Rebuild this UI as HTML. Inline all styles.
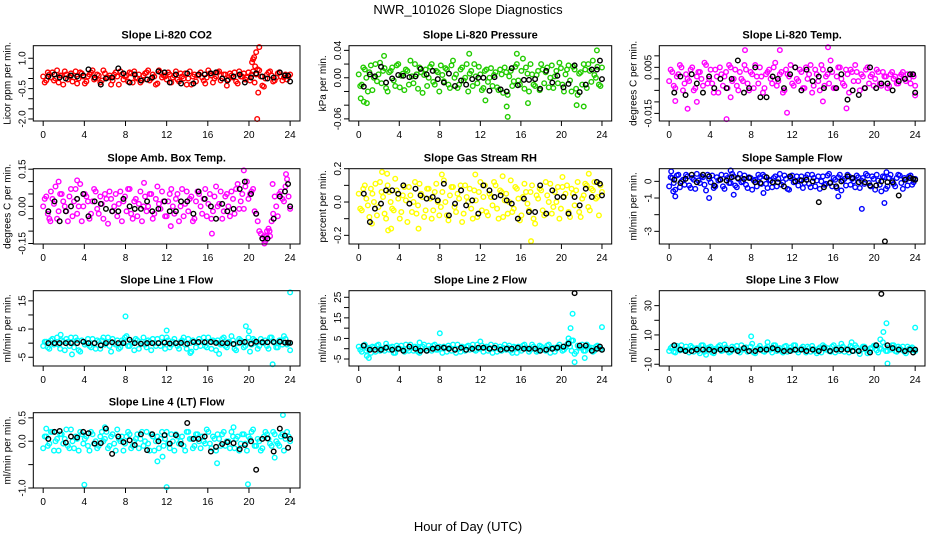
<!DOCTYPE html>
<html><head><meta charset="utf-8"><style>
html,body{margin:0;padding:0;background:#fff}
svg{display:block;font-family:"Liberation Sans",Arial,sans-serif}
</style></head><body>
<svg id="chart" width="936" height="540" viewBox="0 0 936 540" xmlns="http://www.w3.org/2000/svg">
<text x="468" y="14" text-anchor="middle" font-size="13">NWR_101026  Slope Diagnostics</text>
<text x="468" y="531" text-anchor="middle" font-size="13">Hour of Day (UTC)</text>
</svg>
<script>
const hours=[0,.3,.6,.9,1.2,1.5,1.8,2.1,2.4,2.7,3,3.3,3.6,3.9,4.2,4.5,4.8,5.1,5.4,5.7,6,6.3,6.6,6.9,7.2,7.5,7.8,8.1,8.4,8.7,9,9.3,9.6,9.9,10.2,10.5,10.8,11.1,11.4,11.7,12,12.3,12.6,12.9,13.2,13.5,13.8,14.1,14.4,14.7,15,15.3,15.6,15.9,16.2,16.5,16.8,17.1,17.4,17.7,18,18.3,18.6,18.9,19.2,19.5,19.8,20.1,20.4,20.7,21,21.3,21.6,21.9,22.2,22.5,22.8,23.1,23.4,23.7,24];
const hoursB=[.15,.45,.75,1.05,1.35,1.65,1.95,2.25,2.55,2.85,3.15,3.45,3.75,4.05,4.35,4.65,4.95,5.25,5.55,5.85,6.15,6.45,6.75,7.05,7.35,7.65,7.95,8.25,8.55,8.85,9.15,9.45,9.75,10.05,10.35,10.65,10.95,11.25,11.55,11.85,12.15,12.45,12.75,13.05,13.35,13.65,13.95,14.25,14.55,14.85,15.15,15.45,15.75,16.05,16.35,16.65,16.95,17.25,17.55,17.85,18.15,18.45,18.75,19.05,19.35,19.65,19.95,20.25,20.55,20.85,21.15,21.45,21.75,22.05,22.35,22.65,22.95,23.25,23.55,23.85];
const blackHours=[0.5,1.1,1.6,2.2,2.7,3.3,3.9,4.4,5.0,5.6,6.1,6.7,7.3,7.8,8.4,8.9,9.5,10.1,10.6,11.2,11.8,12.3,12.9,13.4,14.0,14.6,15.1,15.7,16.3,16.8,17.4,17.9,18.5,19.1,19.6,20.2,20.7,21.3,21.8,22.4,23.0,23.5,23.8,24.0];
const xTicks=[0,4,8,12,16,20,24];

const co2Y=[0.1,-0.1,0.2,0.3,0,-0.2,0.15,0.35,-0.05,0.25,0.05,-0.25,0.3,0.1,-0.15,0.2,0.4,0,0.15,-0.1,0.25,0.05,-0.3,0.2,0.1,0.35,-0.05,0.15,0.3,-0.2,0.05,0.2,-0.1,0.25,0.4,0,0.1,-0.25,0.3,0.15,-0.05,0.2,0.05,0.35,-0.15,0.1,0.25,0,-0.3,0.2,0.15,0.3,-0.1,0.05,0.25,-0.2,0.1,0.35,0,0.2,-0.05,0.15,0.3,-0.25,0.1,0.25,0.05,-0.1,0.35,0.2,0.4,-0.35,0,0.3,0.15,-0.1,0.25,0.1,0.05,-0.05,0.2];
const co2Y2=[-0.2,0.3,0.05,-0.1,0.4,0.15,-0.3,0.2,0.1,-0.15,0.35,0,0.25,-0.25,0.1,0.3,-0.05,0.2,-0.2,0.4,0.05,0.15,-0.1,0.3,-0.3,0.2,0.1,-0.15,0.25,0.35,0,-0.2,0.15,0.3,-0.1,0.2,-0.3,0.4,0.05,0.1,0.3,-0.2,0.15,-0.05,0.25,0,-0.3,0.35,0.1,-0.15,0.2,0.05,-0.25,0.4,0.15,0,0.3,-0.1,0.2,-0.35,0.25,0.05,-0.15,0.35,0.1,-0.05,0.3,0.2,-0.2,0.45,0.1,-0.4,0.2,0.35,-0.15,0.05,0.3,-0.1,0.2,0.1];
const co2Black=[0.1,0.2,0.05,0,0.15,0.1,0.15,0.45,0.05,-0.3,0,0.05,0.5,0.25,-0.2,0.2,-0.1,-0.05,0.05,0.35,0.3,-0.2,0.2,-0.25,0.25,-0.25,0.2,0.2,0.25,0.3,0,-0.1,0.1,0.2,-0.2,0.05,0.25,0.1,0,0.05,0.3,0.15,0.15,-0.15];
const co2ExtraX=[20.3,20.4,20.5,20.6,20.7,20.9,21.0,20.8];
const co2ExtraY=[0.8,0.95,1.05,0.6,1.3,-0.7,1.55,-2.0];

const presY=[.005,-.01,.012,-.02,.018,0,-.005,.022,.01,-.015,.008,.015,-.012,.02,.003,-.018,.01,.025,-.008,.005,.015,-.022,.012,0,.02,-.01,.008,.018,-.005,.012,-.015,.025,.005,-.01,.015,0,-.02,.01,.02,-.008,.005,-.015,.012,0,-.012,.008,-.018,.005,.015,-.025,.01,-.005,.02,-.01,.028,.015,-.02,.005,-.012,.01,.02,-.008,.015,0,-.015,.01,.022,-.01,.005,.018,-.02,.012,-.025,.008,.02,-.015,.01,.025,0,-.01,.015];
const presY2=[-.012,.015,0,.008,-.018,.02,.005,-.008,.014,-.02,.01,-.004,.018,-.014,.006,.012,-.01,.002,.02,-.016,.008,.004,-.012,.016,-.006,.01,-.02,.004,.014,-.01,.018,0,-.015,.012,-.004,.02,.006,-.012,.002,.016,-.018,.01,-.006,.014,.004,-.014,.012,-.022,.008,.002,-.012,.016,-.004,.01,-.016,.006,.02,-.01,.004,-.018,.012,.008,-.014,.018,.002,-.008,.014,-.02,.012,-.004,.016,-.016,.006,-.01,.012,.02,-.006,.004,.016,-.012];
const presBlack=[-.013,.005,.002,.016,-.007,-.001,.004,.003,.001,.002,.013,.005,.01,-.002,-.007,.006,-.012,-.004,-.01,-.002,0,0,-.019,.001,-.017,-.02,.014,-.011,-.003,-.003,-.002,-.016,.01,-.007,.003,-.014,-.009,.018,-.021,-.01,.012,.012,.025,-.002];
const presExtraX=[0.2,0.5,0.8,10.9,14.6,14.7,23.5,21.5,22.2,12.5,16.7,2.5,15.6];
const presExtraY=[-.03,-.035,-.037,.035,-.042,-.057,.04,-.04,-.042,-.033,-.037,.032,.035];

const tempY=[-.001,.003,-.004,.002,.005,-.002,0,.004,-.005,.001,.003,-.003,.006,0,-.002,.004,-.006,.002,.001,-.004,.005,0,-.003,.003,-.001,.004,-.005,.002,.006,-.002,.001,-.004,.003,0,.005,-.003,.002,-.006,.004,.001,-.002,.005,-.001,.003,-.004,0,.006,-.003,.002,-.005,.004,.001,-.002,.003,-.004,.005,0,-.003,.002,.004,-.001,.003,-.005,.001,.004,-.002,.002,0,.003,-.003,.001,-.004,.002,0,-.002,.001,.003,-.001,0,.002,-.003];
const tempY2=[.004,-.003,.001,.006,-.005,.002,-.001,.005,-.004,.003,0,.007,-.002,.004,-.006,.001,.005,-.003,.003,.006,-.001,.004,-.005,0,.006,-.002,.003,-.004,.001,.005,-.006,.002,.004,-.002,.007,-.001,.003,-.005,.002,.006,-.003,0,.004,-.004,.005,.002,-.006,.004,-.001,.006,-.003,.002,.008,-.004,.001,.005,-.002,.004,-.006,.003,.006,-.001,.002,-.004,.005,.001,-.003,.004,-.002,.003,.001,-.003,.003,.001,-.002,.002,0,.002,-.002,.001];
const tempBlack=[-.006,.001,-.007,.002,-.002,-.006,.001,-.004,0,-.004,0,.008,-.006,-.004,.005,-.008,-.008,.001,0,-.004,.002,.005,-.005,.004,-.001,.001,-.004,.004,-.004,.002,-.009,-.005,-.007,-.004,.005,-.004,-.002,-.002,-.005,-.001,0,.002,.002,-.006];
const tempExtraX=[5.6,11.5,17.3,1.8,7.4,10.8,15.5,0.6,2.7,6.0,24.0,15.0];
const tempExtraY=[-.0175,-.0147,-.0128,-.013,.0125,.0125,.0137,-.0096,-.010,-.008,-.0072,-.0098];

const ambY=[0,.04,-.05,.03,.08,-.02,.05,0,-.06,.07,.02,-.03,.09,0,.04,-.05,.02,.06,-.03,.01,.05,-.07,.03,0,-.04,.06,.02,-.02,.07,-.05,.03,.01,-.06,.04,0,.05,-.03,.08,-.01,.02,-.04,.05,0,.03,-.06,.07,.01,-.02,.04,-.05,.06,0,.03,-.04,.05,-.02,.08,.01,-.05,.04,0,.06,-.03,.09,.02,-.01,.1,.05,.07,-.03,-.1,-.13,-.14,-.09,-.06,.04,-.04,.06,.02,.11,-.01];
const ambY2=[.03,-.03,.06,.01,-.05,.05,.02,-.02,.04,-.04,.07,.0,-.06,.05,.02,-.03,.07,-.01,.04,-.05,.03,.06,-.02,.05,.01,-.06,.04,.07,-.03,.02,-.04,.06,.0,-.02,.05,-.05,.03,.01,.06,-.04,.02,.07,-.03,.05,.0,-.04,.06,.03,-.06,.02,.05,-.03,.07,.01,-.05,.04,.0,.06,-.02,.05,-.04,.03,.07,-.01,.05,.08,.03,.06,-.02,-.06,-.11,-.12,-.1,-.12,-.03,.0,.05,.03,.08,.04];
const ambBlack=[-.02,.02,-.06,-.02,0,.03,.05,-.04,.02,.01,-.01,-.02,-.02,.03,0,-.01,-.01,.02,-.02,-.01,.02,-.02,-.02,.02,.02,-.03,.06,.03,0,-.05,.01,-.02,-.01,.07,.1,.05,-.03,-.13,-.13,-.05,.04,.06,.09,0];
const ambExtraX=[1.5,3.3,9.8,19.5,16.4,21.5,21.7,22.0,23.6,22.3,0.7,12.4];
const ambExtraY=[.1,.105,.095,.145,-.11,-.15,-.12,-.1,.13,.09,-.06,-.08];

const rhY=[.05,-.05,.1,-.02,.08,0,-.08,.12,.03,-.1,.06,-.04,.14,.02,-.06,.09,-.12,.04,0,-.07,.11,.03,-.05,.08,-.1,.06,0,-.03,.13,-.08,.04,.09,-.06,.02,-.12,.1,0,-.04,.07,-.09,.12,.03,-.06,.05,-.02,.1,-.1,.06,.01,-.07,.13,-.04,.08,-.11,.03,.06,-.05,.1,-.13,.02,.07,-.08,.04,.11,-.03,0,-.1,.09,.05,-.06,.08,-.02,.12,-.09,.04,.1,-.05,.07,.02,-.08,.06];
const rhY2=[-.04,.08,.02,-.09,.05,.11,-.03,.06,-.07,.1,.0,-.05,.07,-.1,.04,.01,.09,-.06,.12,-.02,.05,-.09,.08,.02,-.05,.11,-.08,.06,.0,-.11,.09,-.03,.05,.1,-.07,.03,.08,-.1,.01,.06,-.05,.1,-.08,.03,.12,-.04,.07,-.09,.05,.0,-.06,.09,.02,-.08,.11,-.01,.06,-.1,.04,.08,-.05,.12,.0,-.07,.06,.09,-.04,.03,.1,-.09,.05,.07,-.06,.02,.11,-.03,.08,.12,.03,.1];
const rhBlack=[.05,-.12,-.04,-.01,.07,.07,.05,.1,-.01,.08,.04,.02,.03,.01,.11,-.08,-.01,.07,-.02,.01,-.07,.1,.07,.03,.04,.01,-.01,-.1,.02,-.06,-.06,.1,-.07,.07,.03,.03,-.07,.03,-.02,.08,.03,.12,.11,.04];
const rhExtraX=[2.3,2.8,2.9,3.2,17.0,22.7,8.2,11.5,14.2,5.9,1.3,20.1];
const rhExtraY=[.18,.17,-.17,-.16,-.235,.17,.165,.165,.155,-.16,-.13,.15];

const flowY=[-.3,.2,-.5,.4,0,-.2,.3,-.4,.1,.45,-.1,.25,-.55,.15,.35,-.3,.05,.4,-.45,.2,-.1,.3,-.35,.45,0,-.2,.25,-.5,.1,.4,-.15,.3,-.4,.05,.2,-.3,.45,-.05,.15,-.5,.35,0,-.25,.3,-.1,.4,-.35,.2,.05,-.45,.3,-.15,.45,-.3,.1,.25,-.55,.15,.4,-.2,0,.35,-.4,.2,.45,-.1,.3,-.5,.05,-.6,.25,-.3,.4,-.15,.2,.35,-.45,.1,.3,-.2,.15];
const flowY2=[.25,-.1,.35,-.35,.1,.4,-.25,.2,-.45,.05,.3,-.2,.4,-.05,-.4,.25,.1,-.3,.35,-.1,.45,-.25,.15,-.05,.35,-.4,.2,.05,-.3,.25,.4,-.15,.1,-.35,.3,.15,-.2,.35,-.45,.2,-.05,.3,.1,-.4,.25,-.15,.4,-.3,.3,.0,-.2,.35,-.05,.2,-.4,.4,.05,-.25,.3,.15,-.35,.25,.05,-.15,.35,-.3,.15,.4,-.2,.3,-.45,.2,.05,-.3,.4,-.1,.2,-.25,.35,-.05];
const flowBlack=[.1,-.1,.15,.4,-.05,.4,.3,-.25,.1,.05,.25,.2,.15,.2,-.05,-.1,.25,-.05,-.05,-.3,.3,0,.05,.1,0,-1.25,-.35,-.1,-.3,0,.3,.2,-.05,-.05,-.25,-.25,0,-.05,-.05,-.85,.1,.2,.15,.1];
const flowExtraX=[0.2,0.6,3.9,6.3,6.0,16.5,18.8,21.0,21.2,9.2,0.4];
const flowExtraY=[.6,-.9,-1.0,-.8,.65,-.9,-1.65,-1.3,.55,-.7,-.6];
const flowBlackExtraX=[21.05];
const flowBlackExtraY=[-3.6];

const line1Y=[-1,.5,-2,1.5,0,-.5,1,-2.5,.5,2,-1.5,1,-3,.5,0,-1,1.5,-2,.5,1,-.5,2,-3,0,1,-1.5,.5,2.5,-1,0,1.5,-2,.5,-.5,1,-2.5,0,1.5,-1,.5,2,-1.5,.5,0,-2,1,-.5,1.5,-3,.5,0,-1,2,-1.5,.5,1,-2.5,0,1.5,-1,.5,2.5,-2,0,1,-1.5,.5,-3,1.5,0,-1,.5,1,-2,2,0,-1.5,1,2.5,-.5,-2.5];
const line1Y2=[.5,-1.5,1,-.5,2,-2,.5,1.5,-1,0,2,-2.5,1,-.5,1.5,-1.5,0,1,-2,2,.5,-1,1.5,-.5,-2,1,2,-1,.5,-2.5,1,0,2,-1.5,.5,1.5,-1,0,2,-2,1,-.5,1.5,-1,.5,2,-2,0,1,-1.5,1.5,.5,-1,2,-2,.5,1,-.5,2,-1.5,0,1,-2.5,1.5,.5,-1,2,-.5,1,-2,1.5,0,-1,2,.5,-1.5,1,-.5,1.5,0];
const line1Black=[0,0,0,0,0,0,.5,0,0,-.8,0,.3,0,0,1.2,0,-.2,0,0,0,.2,-.1,0,.1,-.2,.4,.4,.3,.4,.1,0,0,-.3,.2,.4,-.2,.5,.3,.3,.4,.5,.2,.2,.1];
const line1ExtraX=[8.0,12.0,19.7,20.0,22.3,24.0,2.8,17.1,1.7,14.3];
const line1ExtraY=[9.5,4.5,6,4.2,-7.5,18,-4,-3.8,3,-3.5];

const line2Y=[1,-1.5,2,0,-2,.5,1.5,-1,0,2.5,-.5,1,-2,.5,1.5,-1.5,0,2,-1,.5,-2,1,0,1.5,-1,2,-.5,0,1,-1.5,.5,2,-2,0,1,-1,1.5,.5,-.5,2,0,-1.5,1,.5,-2,1.5,0,-1,2,.5,-1,1,-2,0,1.5,.5,-1.5,2,0,-1,1,-.5,1.5,-2,.5,0,2,-1,.5,3,-1,-2.5,1.5,.5,-1,2,0,-1.5,1,.5,-.5];
const line2Y2=[-.5,1.5,-1,.5,1,-1.5,2,0,-1,1,.5,-2,1.5,0,-.5,2,-1,.5,1,-1.5,.5,2,-1,0,1.5,-.5,1,-2,.5,1.5,-1,0,2,-1.5,.5,1,-.5,2,-1,0,1.5,.5,-1,2,0,-1.5,1,.5,-.5,1.5,-2,.5,1,-1,2,0,-.5,1,-1.5,1.5,.5,-1,2,0,-1.5,1,.5,-.5,2,1,4,-1.5,.5,2,-1,1,.5,-1,1.5,0];
const line2Black=[1.5,-.5,-.5,-.5,.5,-.5,0,-1,1,0,-1,-1,0,.5,.5,0,-.5,.5,-.5,0,.5,.5,0,.5,-.5,0,0,.5,0,0,0,-1,-.5,0,.5,1,2.5,27,1.5,1.5,-1,0,1,-.5];
const line2ExtraX=[8.0,20.7,20.9,21.1,21.3,22.3,24.0,0.8,1.0,6.0,12.0,21.0];
const line2ExtraY=[7.5,5,10,17,-6.5,-4.5,10.5,-3.5,-4.5,3,3.5,4];

const line3Y=[-1,2,-2,1,3,-.5,0,2.5,-1.5,1,-2.5,3,0,1.5,-2,.5,2,-1,3.5,0,-1.5,1,2.5,-2,0,1.5,-1,4,-2.5,1,.5,-1.5,2,0,3,-1,1,-2,2.5,0,-.5,3,-2,1,0,2,-1.5,.5,-2.5,1.5,3,0,-1,2,-2,1,4,-1.5,0,2.5,-1,1.5,-3,2,0,-1.5,1,3,-2,.5,2,-1,0,3,-1.5,1,2,-2.5,.5,1.5,-1];
const line3Y2=[1,-1.5,2.5,-.5,0,2,-2,1.5,.5,-1,3,-1.5,1,2,-2.5,.5,3,-.5,1.5,-2,2,0,-1,3,1,-1.5,2,-2,.5,2.5,-1,1,0,-2,3,.5,-1,2,-1.5,1.5,3,-.5,0,2,-2,1,2.5,-1,.5,-2,2,1,-1.5,3,0,-1,2,.5,-2,1.5,3,-1,0,2,-2.5,1,2.5,-.5,1,5,-1,1.5,3,-1,2,0,-1.5,2,1,-.5];
const line3Black=[3,0,-1,-1,0,0,0,-1,0,0,0,-1,1,-1,-1,0,0,1,0,-1,-1,0,0,-1,0,-1,1,-1,0,0,0,-1,-1,1,-2,3,38,3,1,0,-1,0,-2,0];
const line3ExtraX=[8.0,20.9,21.2,21.3,24.0,20.6,17.8,9.6,3.6];
const line3ExtraY=[9,12,18,-9.5,15,7,5,5,-3.5];

const line4Y=[-.15,.1,-.05,.2,0,-.2,.15,.05,-.1,.25,-.15,.05,.2,-.05,.1,-.2,.15,0,-.1,.2,.05,-.15,.1,-.05,.25,0,-.2,.1,.15,-.1,.05,-.15,.2,0,-.05,.15,-.2,.1,.05,-.1,.2,-.15,0,.15,-.05,.1,-.2,.2,.05,-.1,.15,-.15,0,.25,-.05,.1,-.2,.05,.15,-.1,0,.2,-.15,.1,-.05,.15,-.2,.05,.25,-.1,0,-.15,.2,.05,-.1,.15,-.05,.1,-.2,.2,0];
const line4Y2=[.1,-.1,.2,-.2,.05,.15,-.05,.25,-.15,0,.1,-.2,.15,.05,-.1,.2,-.05,-.15,.1,0,.2,-.1,.15,-.2,.05,.1,-.05,.2,-.15,0,.15,.05,-.1,.2,-.2,.1,0,-.15,.2,.05,-.05,.15,-.2,.1,0,-.1,.2,.05,-.15,.15,0,.1,-.05,.2,-.15,.05,.15,-.1,.2,0,-.15,.1,.05,-.2,.15,-.05,.1,.2,-.1,.05,-.2,.1,.15,-.05,.2,0,-.1,.15,.05,.1];
const line4Black=[.05,.2,.22,-.03,.1,.08,.2,.17,-.05,-.04,.27,-.27,.1,-.02,.02,-.08,.15,-.19,.15,0,.13,-.05,.13,-.06,.39,.05,.05,.1,-.22,-.12,-.06,-.02,-.04,-.17,-.08,0,-.61,.05,.06,-.22,.27,.12,-.14,.05];
const line4ExtraX=[4.0,12.0,19.9,23.3,11.1,16.9,11.6,0.3,6.0,18.5,22.5];
const line4ExtraY=[-.93,-.98,-.92,.56,-.43,-.47,-.33,.27,.3,.3,-.35];

const co2Ticks=[1,0.5,0,-0.5,-1,-1.5,-2], co2Labels=["1.0","","","-0.5","","","-2.0"];
const presTicks=[.04,.02,0,-.02,-.04,-.06], presLabels=["0.04","","0.00","","","-0.06"];
const tempTicks=[.01,.005,0,-.005,-.01,-.015], tempLabels=["","0.005","","","","-0.015"];
const ambTicks=[.15,.1,.05,0,-.05,-.1,-.15], ambLabels=["0.15","","","0.00","","","-0.15"];
const rhTicks=[.2,.1,0,-.1,-.2], rhLabels=["0.2","","0.0","","-0.2"];
const flowTicks=[0,-1,-2,-3], flowLabels=["0","-1","","-3"];
const line1Ticks=[15,10,5,0,-5], line1Labels=["15","","5","","-5"];
const line2Ticks=[25,20,15,10,5,0,-5], line2Labels=["25","","15","","5","","-5"];
const line3Ticks=[30,20,10,0,-10], line3Labels=["30","","10","","-10"];
const line4Ticks=[.5,0,-.5,-1], line4Labels=["0.5","0.0","","-1.0"];

const colLeft=[33.3,349,659.3], colW=[266.7,262.7,265.7];
const rowTop=[45.7,168.7,290.7,412.7], boxH=75.3;
const panels=[
 {name:'co2',title:'Slope Li-820 CO2',yl:'Licor ppm per min.',color:'#ff0000',col:0,row:0,ylim:[-2.1,1.62],ticks:co2Ticks,labels:co2Labels,y:co2Y,y2:co2Y2,b:co2Black,ex:co2ExtraX,ey:co2ExtraY},
 {name:'pressure',title:'Slope Li-820 Pressure',yl:'kPa per min.',color:'#22cc00',col:1,row:0,ylim:[-0.0631,0.0468],ticks:presTicks,labels:presLabels,y:presY,y2:presY2,b:presBlack,ex:presExtraX,ey:presExtraY},
 {name:'licor-temp',title:'Slope Li-820 Temp.',yl:'degrees C per min.',color:'#ff00ff',col:2,row:0,ylim:[-0.0183,0.0144],ticks:tempTicks,labels:tempLabels,y:tempY,y2:tempY2,b:tempBlack,ex:tempExtraX,ey:tempExtraY},
 {name:'amb-box-temp',title:'Slope Amb. Box Temp.',yl:'degrees C per min.',color:'#ff00ff',col:0,row:1,ylim:[-0.152,0.152],ticks:ambTicks,labels:ambLabels,y:ambY,y2:ambY2,b:ambBlack,ex:ambExtraX,ey:ambExtraY},
 {name:'gas-stream-rh',title:'Slope Gas Stream RH',yl:'percent per min.',color:'#ffff00',col:1,row:1,ylim:[-0.252,0.2],ticks:rhTicks,labels:rhLabels,y:rhY,y2:rhY2,b:rhBlack,ex:rhExtraX,ey:rhExtraY},
 {name:'sample-flow',title:'Slope Sample Flow',yl:'ml/min per min.',color:'#0000ff',col:2,row:1,ylim:[-3.76,0.76],ticks:flowTicks,labels:flowLabels,y:flowY,y2:flowY2,b:flowBlack,ex:flowExtraX,ey:flowExtraY,bex:flowBlackExtraX,bey:flowBlackExtraY},
 {name:'line1-flow',title:'Slope Line 1 Flow',yl:'ml/min per min.',color:'#00ffff',col:0,row:2,ylim:[-8.1,18.6],ticks:line1Ticks,labels:line1Labels,y:line1Y,y2:line1Y2,b:line1Black,ex:line1ExtraX,ey:line1ExtraY},
 {name:'line2-flow',title:'Slope Line 2 Flow',yl:'ml/min per min.',color:'#00ffff',col:1,row:2,ylim:[-8.4,28.2],ticks:line2Ticks,labels:line2Labels,y:line2Y,y2:line2Y2,b:line2Black,ex:line2ExtraX,ey:line2ExtraY},
 {name:'line3-flow',title:'Slope Line 3 Flow',yl:'ml/min per min.',color:'#00ffff',col:2,row:2,ylim:[-11.2,40.2],ticks:line3Ticks,labels:line3Labels,y:line3Y,y2:line3Y2,b:line3Black,ex:line3ExtraX,ey:line3ExtraY},
 {name:'line4-flow',title:'Slope Line 4 (LT) Flow',yl:'ml/min per min.',color:'#00ffff',col:0,row:3,ylim:[-1.0,0.61],ticks:line4Ticks,labels:line4Labels,y:line4Y,y2:line4Y2,b:line4Black,ex:line4ExtraX,ey:line4ExtraY}
];
const NS='http://www.w3.org/2000/svg';
const svg=document.getElementById('chart');
function mk(tag,attrs,parent){const e=document.createElementNS(NS,tag);for(const k in attrs)e.setAttribute(k,attrs[k]);parent.appendChild(e);return e;}
panels.forEach(p=>{
 const L=colLeft[p.col],W=colW[p.col],T=rowTop[p.row],H=boxH;
 const xs=v=>L+(v+0.96)/25.92*W;
 const ys=v=>T+(p.ylim[1]-v)/(p.ylim[1]-p.ylim[0])*H;
 const g=mk('g',{},svg);
 
 
 const t=mk('text',{x:L+W/2,y:T-7,'text-anchor':'middle','font-size':11,'font-weight':'bold'},g);t.textContent=p.title;
 
 
 const cx=L-23,cy=T+H/2;
 const yl=mk('text',{x:cx,y:cy,'text-anchor':'middle','font-size':10,transform:`rotate(-90 ${cx} ${cy})`},g);yl.textContent=p.yl;
 
 
 xTicks.forEach(v=>{
  const x=xs(v);
  mk('line',{x1:x,x2:x,y1:T+H,y2:T+H+5,stroke:'#000','stroke-width':1},g);
  const tl=mk('text',{x:x,y:T+H+17,'text-anchor':'middle','font-size':10},g);tl.textContent=v;
  
  
 });
 p.ticks.forEach((v,i)=>{
  const y=ys(v);
  mk('line',{x1:L-5,x2:L,y1:y,y2:y,stroke:'#000','stroke-width':1},g);
  if(p.labels[i]){const lx=L-8;
   const tl=mk('text',{x:lx,y:y,'text-anchor':'middle','font-size':10,transform:`rotate(-90 ${lx} ${y})`},g);tl.textContent=p.labels[i];
   
   }
 });
 const pts=mk('g',{fill:'none','stroke-width':1.4},g);
 
 
 const n=Math.min(hours.length,p.y.length);
 for(let i=0;i<n;i++){const c=mk('circle',{cx:xs(hours[i]),cy:ys(p.y[i]),r:2.3,stroke:p.color},pts);
  
  }
 const n2=Math.min(hoursB.length,p.y2.length);
 for(let i=0;i<n2;i++){const c=mk('circle',{cx:xs(hoursB[i]),cy:ys(p.y2[i]),r:2.3,stroke:p.color},pts);
  
  }
 for(let i=0;i<p.ex.length;i++){const c=mk('circle',{cx:xs(p.ex[i]),cy:ys(p.ey[i]),r:2.3,stroke:p.color},pts);
  
  }
 const m=Math.min(blackHours.length,p.b.length);
 for(let i=0;i<m;i++){const c=mk('circle',{cx:xs(blackHours[i]),cy:ys(p.b[i]),r:2.3,stroke:'#000'},pts);
  
  }
 if(p.bex){for(let i=0;i<p.bex.length;i++){const c=mk('circle',{cx:xs(p.bex[i]),cy:ys(p.bey[i]),r:2.3,stroke:'#000'},pts);
  
  }}
 const box=mk('rect',{x:L,y:T,width:W,height:H,fill:'none',stroke:'#000','stroke-width':1},g);
 
 
});
</script>
</body></html>
